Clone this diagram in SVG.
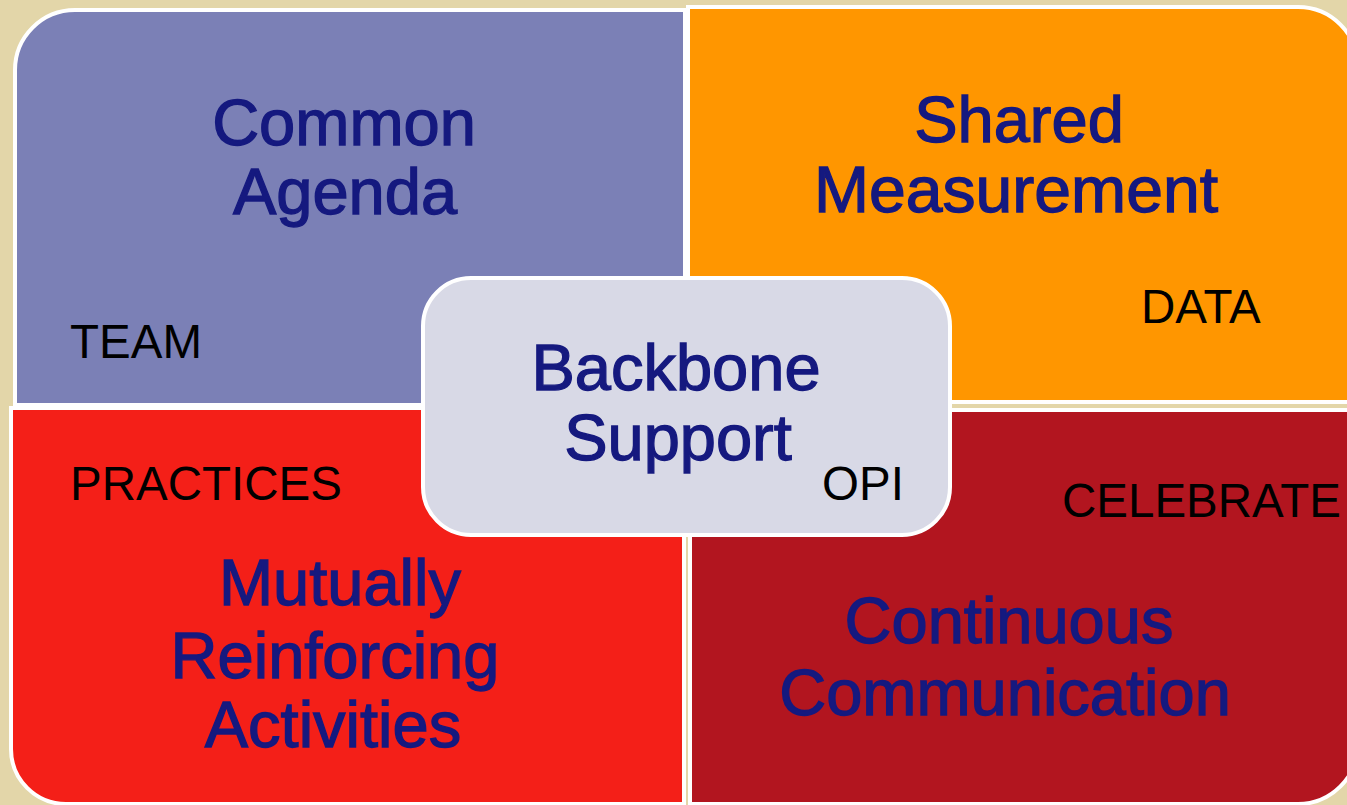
<svg xmlns="http://www.w3.org/2000/svg" width="1347" height="805" viewBox="0 0 1347 805">
<style>
.q{stroke:#ffffff;stroke-width:4}
.title{font-family:"Liberation Sans",Arial,sans-serif;font-size:65px;fill:#15197f;stroke:#15197f;stroke-width:1.3;text-anchor:middle}
.lbl{font-family:"Liberation Sans",Arial,sans-serif;font-size:47.5px;fill:#000000}
</style>
<rect x="0" y="0" width="1347" height="805" fill="#e3d6a9"/>
<g id="common-agenda">
<path class="q" fill="#7b80b6" d="M15,405 V70 A60,60 0 0 1 75,10 H685 V405 Z"/>
<text class="title" x="344" y="145">Common</text>
<text class="title" x="345" y="214">Agenda</text>
</g>
<g id="shared-measurement">
<path class="q" fill="#ff9600" d="M688,402 V7 H1298 A60,60 0 0 1 1358,67 V402 Z"/>
<text class="title" x="1019" y="142">Shared</text>
<text class="title" x="1016" y="212" textLength="404" lengthAdjust="spacingAndGlyphs">Measurement</text>
</g>
<g id="mutually-reinforcing">
<path class="q" fill="#f41f18" d="M11,408 H684 V804 H66 A55,55 0 0 1 11,749 Z"/>
<text class="title" x="340" y="605">Mutually</text>
<text class="title" x="335" y="678">Reinforcing</text>
<text class="title" x="333" y="747">Activities</text>
</g>
<g id="continuous-communication">
<path class="q" fill="#b2151f" d="M690,410 H1358 V744 A60,60 0 0 1 1298,804 H690 Z"/>
<text class="title" x="1009" y="643">Continuous</text>
<text class="title" x="1005" y="715">Communication</text>
</g>
<g id="backbone-support">
<rect class="q" x="423" y="278" width="527" height="257" rx="48" ry="48" fill="#d8d9e6"/>
<text class="title" x="676" y="390">Backbone</text>
<text class="title" x="678" y="460">Support</text>
</g>
<g id="labels">
<text class="lbl" x="70" y="358">TEAM</text>
<text class="lbl" x="1141" y="323">DATA</text>
<text class="lbl" x="70" y="500">PRACTICES</text>
<text class="lbl" x="822" y="500">OPI</text>
<text class="lbl" x="1062" y="517">CELEBRATE</text>
</g>
<g id="connectors"/>
</svg>
